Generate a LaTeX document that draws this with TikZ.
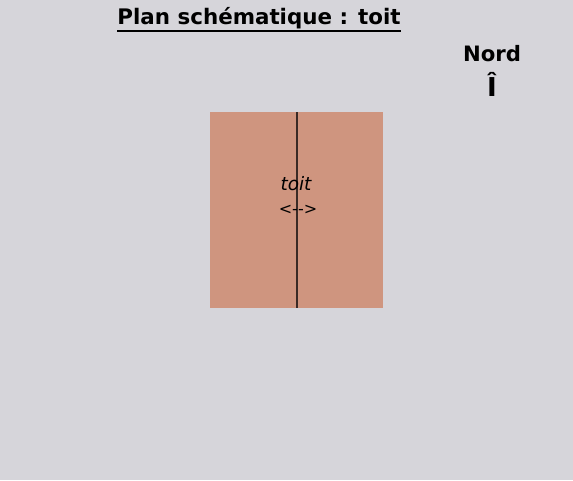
\documentclass[tikz,border=0pt]{standalone}
\usepackage{fontspec}
\setmainfont{DejaVu Sans}
\definecolor{bg}{HTML}{D6D5DA}
\definecolor{roof}{HTML}{CF957F}
\definecolor{ridge}{HTML}{3A2A25}
\begin{document}
\begin{tikzpicture}[x=1pt,y=-1pt,
  titletext/.style={font=\bfseries\fontsize{21.4}{25}\selectfont,inner sep=0pt},
  lbl/.style={font=\fontsize{16}{19}\selectfont,inner sep=0pt}]
\fill[bg] (0,0) rectangle (573,480);
\useasboundingbox (0,0) rectangle (573,480);
\node[titletext] (title) at (259,18) {Plan schématique : toit};
\draw[line width=1.3pt] (title.south west) ++(0,2) coordinate (ul1) -- (title.south east |- ul1);
\node[titletext,font=\bfseries\fontsize{21.2}{25}\selectfont] (nord) at (492,54) {Nord};
\node[titletext,font=\bfseries\fontsize{26}{30}\selectfont] (arrow) at (492,84) {Î};
\node[fill=roof,minimum width=173pt,minimum height=196pt,inner sep=0pt,anchor=north west] (roof) at (210,112) {};
\draw[ridge,line width=1.2pt] (297,112) coordinate (r1) -- (297,308) coordinate (r2);
\node[lbl,font=\itshape\fontsize{18.5}{21}\selectfont] (toit) at (296,184) {toit};
\node[lbl] (sym) at (298,210) {<{-}{-}>};
\end{tikzpicture}
\end{document}
